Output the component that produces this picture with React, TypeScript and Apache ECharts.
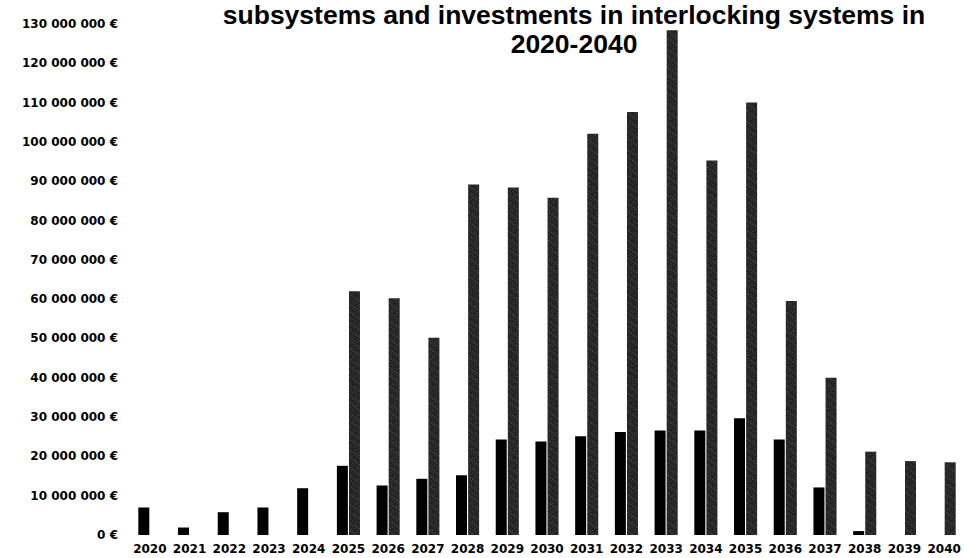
import React, { useEffect, useRef } from "react";
import * as echarts from "echarts";

// Years on the category axis
const years = [
  "2020", "2021", "2022", "2023", "2024", "2025", "2026", "2027", "2028", "2029", "2030",
  "2031", "2032", "2033", "2034", "2035", "2036", "2037", "2038", "2039", "2040",
];

// Costs of subsystems, million €
const subsystemCostsM = [
  7.0, 1.9, 5.8, 7.0, 11.9, 17.6, 12.6, 14.3, 15.2, 24.3, 23.8,
  25.1, 26.2, 26.6, 26.6, 29.7, 24.3, 12.1, 1.0, null, null,
];

// Investments in interlocking systems, million €
const interlockingInvestmentsM = [
  null, null, null, null, null, 62.0, 60.2, 50.2, 89.2, 88.4, 85.8,
  102.1, 107.6, 128.4, 95.3, 110.0, 59.5, 40.0, 21.2, 18.8, 18.5,
];

// Value axis range, €
const yMin = 0;
const yMax = 130000000;
const yStep = 10000000;

const titleLines = ["subsystems and investments in interlocking systems in", "2020-2040"];

const toEuro = (arr: (number | null)[]) => arr.map((v) => (v == null ? null : v * 1e6));

const formatEuro = (v: number) =>
  String(Math.round(v)).replace(/\B(?=(\d{3})+(?!\d))/g, " ") + " €";

export default function App() {
  const ref = useRef<HTMLDivElement>(null);

  useEffect(() => {
    if (!ref.current) return;
    const chart = echarts.init(ref.current, null, { renderer: "svg" });
    const labelFont = {
      fontFamily: "DejaVu Sans",
      fontWeight: "bold" as const,
      fontSize: 12,
      color: "#000",
    };
    chart.setOption({
      animation: false,
      backgroundColor: "#fff",
      title: {
        text: titleLines.join("\n"),
        left: 574,
        top: 0,
        padding: 0,
        textAlign: "center",
        textStyle: {
          fontFamily: "Liberation Sans",
          fontWeight: "bold",
          fontSize: 26.5,
          lineHeight: 29,
          color: "#000",
        },
      },
      grid: { left: 130, right: -6, top: 24, bottom: 23, containLabel: false },
      xAxis: {
        type: "category",
        data: years,
        axisLine: { show: false },
        axisTick: { show: false },
        axisLabel: { ...labelFont, interval: 0, margin: 8 },
      },
      yAxis: {
        type: "value",
        min: yMin,
        max: yMax,
        interval: yStep,
        axisLine: { show: false },
        axisTick: { show: false },
        splitLine: { show: false },
        axisLabel: { ...labelFont, margin: 12, formatter: formatEuro },
      },
      series: [
        {
          name: "Subsystems",
          type: "bar",
          data: toEuro(subsystemCostsM),
          barWidth: 11,
          barGap: "10%",
          itemStyle: { color: "#000" },
        },
        {
          name: "Interlocking systems",
          type: "bar",
          data: toEuro(interlockingInvestmentsM),
          barWidth: 11,
          itemStyle: {
            color: "#222",
            decal: {
              symbol: "rect",
              symbolSize: 0.6,
              color: "rgba(255,255,255,0.6)",
              dashArrayX: [[1, 2], [1, 1, 1, 3], [2, 1]],
              dashArrayY: [1, 2, 1, 1],
              rotation: 0.6,
            },
          },
        },
      ],
    });
    return () => chart.dispose();
  }, []);

  return (
    <div
      ref={ref}
      style={{ position: "absolute", left: 0, top: 0, width: 964, height: 558 }}
    />
  );
}
